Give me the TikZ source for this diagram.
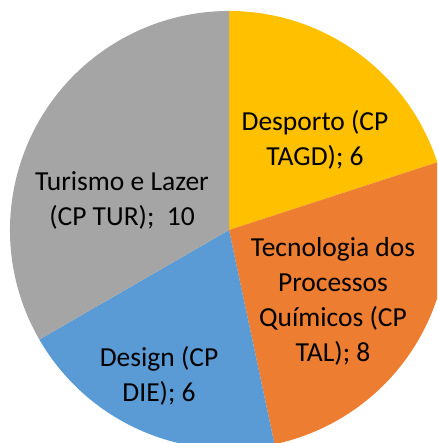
\documentclass[tikz,border=0pt]{standalone}
\usepackage{fontspec}
\setmainfont{Carlito}
\definecolor{vang}{HTML}{FFC000}
\definecolor{cam}{HTML}{ED7D31}
\definecolor{lam}{HTML}{5B9BD5}
\definecolor{xam}{HTML}{A5A5A5}
\begin{document}
\begin{tikzpicture}[x=1pt,y=1pt]
	\tikzset{
		every node/.style={font=\fontsize{27.5}{35}\selectfont,align=center,inner sep=0pt},
		% manh tron
		manh/.style={draw=none},
	}
	%
	\useasboundingbox (0,0) rectangle (437,443);
	\clip (0,0) rectangle (437,443);
	\coordinate (tam) at (229,213);
	%
	\fill[manh,vang] (tam)--++(90:219) arc(90:18:219)--cycle;
	\fill[manh,cam] (tam)--++(18:219) arc(18:-78:219)--cycle;
	\fill[manh,lam] (tam)--++(-78:219) arc(-78:-150:219)--cycle;
	\fill[manh,xam] (tam)--++(-150:219) arc(-150:-270:219)--cycle;
	%
	\node (desporto) at (315,303) {Desporto (CP\\TAGD); 6};
	\node (tecnologia) at (333,142) {Tecnologia dos\\Processos\\Químicos (CP\\TAL); 8};
	\node (design) at (159,67) {Design (CP\\DIE); 6};
	\node (turismo) at (122,243) {Turismo e Lazer\\(CP TUR);\ \ 10};
\end{tikzpicture}
\end{document}
